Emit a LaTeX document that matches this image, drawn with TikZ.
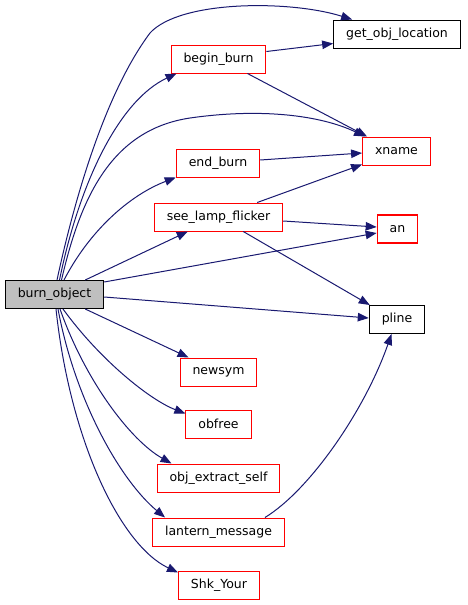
\documentclass[tikz,border=0pt]{standalone}
\usepackage{fontspec}
\setsansfont{DejaVu Sans}
\usetikzlibrary{arrows.meta}
\definecolor{callblue}{HTML}{191970}
\definecolor{rootgray}{HTML}{BFBFBF}
\definecolor{fnred}{HTML}{FF0000}

\begin{document}
\begin{tikzpicture}[x=1pt, y=-1pt,
	every node/.style={font=\sffamily\fontsize{12.5}{14}\selectfont, minimum height=28pt, inner xsep=12.5pt, inner ysep=0pt},
	fn/.style={draw=fnred, line width=1pt, fill=white},
	ext/.style={draw=black, line width=1pt, fill=white},
	call/.style={draw=callblue, line width=1pt, -{Triangle[length=11pt, width=8.5pt]}}]
	\useasboundingbox (0,0) rectangle (467,605);
	\node[ext, fill=rootgray] (burn) at (54.5,294.5) {burn\_object};
	\node[ext] (getloc) at (397,34) {get\_obj\_location};
	\node[fn] (beginburn) at (218.5,59) {begin\_burn};
	\node[fn] (xname) at (396.5,151) {xname};
	\node[fn] (endburn) at (218,163) {end\_burn};
	\node[fn] (seelamp) at (218.5,217) {see\_lamp\_flicker};
	\node[fn, draw=red, line width=1.1pt] (anfn) at (397.5,229) {an};
	\node[ext] (pline) at (397,319.5) {pline};
	\node[fn] (newsym) at (218.5,372) {newsym};
	\node[fn] (obfree) at (218.5,424) {obfree};
	\node[fn] (extract) at (218.5,478) {obj\_extract\_self};
	\node[fn] (lantern) at (218.5,532) {lantern\_message};
	\node[fn] (shk) at (219,585) {Shk\_Your};
	\draw[call] ([xshift=2.5pt]burn.north) .. controls (70,220) and (100,100) .. (150,33) .. controls (180,0) and (290,0) .. ([xshift=19pt]getloc.north west);
	\draw[call] ([xshift=5pt]burn.north) .. controls (80,180) and (120,100) .. ([xshift=6pt]beginburn.south west);
	\draw[call] ([xshift=7pt]burn.north) .. controls (80,200) and (110,130) .. (190,118) .. controls (260,108) and (320,115) .. ([xshift=3pt]xname.north west);
	\draw[call] ([xshift=9.5pt]burn.north) .. controls (90,230) and (130,195) .. (endburn.south west);
	\draw[call] ([xshift=-19pt]burn.north east) -- ([xshift=34pt]seelamp.south west);
	\draw[call] ([yshift=-2pt]burn.north east) -- ([yshift=-4pt]anfn.west);
	\draw[call] ([yshift=-2.5pt]burn.east) -- ([yshift=1.5pt]pline.west);
	\draw[call] ([xshift=-19pt]burn.south east) -- ([xshift=9pt]newsym.north west);
	\draw[call] ([xshift=8.5pt]burn.south) .. controls (100,360) and (150,400) .. ([yshift=-4pt]obfree.north west);
	\draw[call] ([xshift=5.5pt]burn.south) .. controls (85,380) and (130,440) .. ([xshift=15pt]extract.north west);
	\draw[call] ([xshift=3.5pt]burn.south) .. controls (75,400) and (120,480) .. ([xshift=13pt]lantern.north west);
	\draw[call] ([xshift=1.5pt]burn.south) .. controls (70,440) and (120,545) .. ([yshift=-2pt]shk.north west);
	\draw[call] ([yshift=-7pt]beginburn.north east) -- ([yshift=5pt]getloc.south west);
	\draw[call] ([xshift=-19pt]beginburn.south east) -- ([xshift=5pt]xname.north west);
	\draw[call] ([yshift=3pt]endburn.east) -- ([yshift=-2pt]xname.west);
	\draw[call] ([xshift=-26pt]seelamp.north east) -- ([yshift=1pt]xname.south west);
	\draw[call] ([yshift=-4pt]seelamp.east) -- ([yshift=2pt]anfn.west);
	\draw[call] ([xshift=-40pt]seelamp.south east) -- ([xshift=1pt]pline.north west);
	\draw[call] ([xshift=-20pt]lantern.north east) .. controls (310,490) and (365,410) .. ([xshift=-5.5pt]pline.south);
\end{tikzpicture}
\end{document}
